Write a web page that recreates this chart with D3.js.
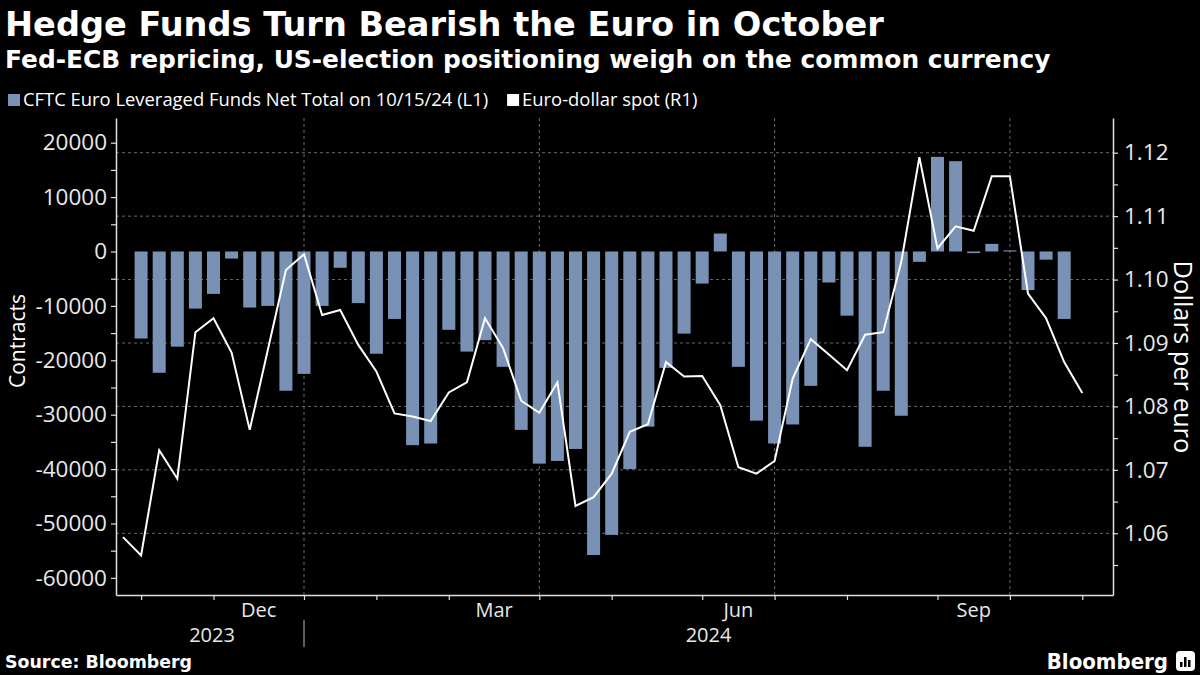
<!DOCTYPE html>
<html><head><meta charset="utf-8">
<script src="https://cdn.jsdelivr.net/npm/d3@7"></script>
<style>html,body{margin:0;padding:0;background:#000;} svg{display:block}</style>
</head><body>
<svg id="chart" width="1200" height="675"></svg>
<script>
// ---------- data ----------
const firstWeek = new Date(2023, 9, 27);   // first weekly point of the spot series
const spotWeeks = 54;                      // weekly points of the spot line
// Euro-dollar spot (R1), weekly
const spotValues = [
  1.0594, 1.0565, 1.0731, 1.0686, 1.0917, 1.0939, 1.0885, 1.0763, 1.0889, 1.1015,
  1.1040, 1.0944, 1.0952, 1.0897, 1.0855, 1.0789, 1.0784, 1.0777, 1.0822, 1.0838,
  1.0939, 1.0892, 1.0809, 1.0790, 1.0838, 1.0643, 1.0657, 1.0694, 1.0760, 1.0772,
  1.0870, 1.0847, 1.0848, 1.0802, 1.0704, 1.0694, 1.0714, 1.0844, 1.0906, 1.0882,
  1.0857, 1.0913, 1.0917, 1.1028, 1.1193, 1.1049, 1.1084, 1.1077, 1.1163, 1.1163,
  1.0978, 1.0939, 1.0870, 1.0821
];
// CFTC Euro Leveraged Funds Net Total (L1), weekly, starting at the 2nd spot week
const cftcValues = [
  -16000, -22300, -17500, -10500, -7800, -1300, -10300, -10000, -25600, -22500,
  -10000, -3000, -9500, -18800, -12400, -35600, -35300, -14400, -18400, -16300,
  -21200, -32800, -39000, -38500, -36300, -55800, -52100, -40000, -32200, -21400,
  -15100, -5900, 3300, -21200, -31100, -35300, -31800, -24700, -5700, -11800,
  -35900, -25600, -30200, -1900, 17400, 16600, -300, 1400, 200, -7100,
  -1500, -12400
];
const leftTickValues = [20000, 10000, 0, -10000, -20000, -30000, -40000, -50000, -60000];
const rightTickValues = [1.06, 1.07, 1.08, 1.09, 1.10, 1.11, 1.12];
const monthLabelNames = ["Dec", "Mar", "Jun", "Sep"];
const yearLabelNames = ["2023", "2024"];
const legendLabels = ["CFTC Euro Leveraged Funds Net Total on 10/15/24 (L1)", "Euro-dollar spot (R1)"];

// ---------- derived ----------
const spotDates = d3.range(spotWeeks).map(i => d3.timeWeek.offset(firstWeek, i));
const spot = spotDates.map((d, i) => ({date: d, value: spotValues[i]}));
const cftc = cftcValues.map((v, i) => ({date: spotDates[i + 1], value: v}));

// ---------- layout ----------
const W = 1200, H = 675;
const plot = {left: 116, right: 1113, top: 118, bottom: 595};
const barColor = "#7a91b6";
const textColor = "#ffffff";
const tickColor = "#e8e8e8";
const axisColor = "#e0e0e0";
const gridColor = "#6a6a6a";
const sansFont = "'Open Sans', 'Noto Sans', sans-serif";
const boldFont = "'DejaVu Sans', sans-serif";

const svg = d3.select("#chart");
svg.append("rect").attr("width", W).attr("height", H).attr("fill", "#000");

const x = d3.scaleTime()
  .domain([d3.timeHour.offset(firstWeek, -65), d3.timeHour.offset(firstWeek, 382 * 24 + 21)])
  .range([plot.left, plot.right]);
const yL = d3.scaleLinear().domain([-63150, 24540]).range([plot.bottom, plot.top]);
const yR = d3.scaleLinear().domain([1.05027, 1.12547]).range([plot.bottom, plot.top]);

// month ticks = first weekly point of each month
const monthStarts = d3.timeMonth.range(new Date(2023, 10, 1), new Date(2024, 10, 2));
const monthTicks = monthStarts.map(m => d3.timeFriday.ceil(m));
const quarterTicks = monthTicks.filter((t, i) => monthStarts[i].getMonth() % 3 === 0);

// ---------- gridlines ----------
const grid = svg.append("g");
grid.selectAll("line.h").data(rightTickValues).join("line")
  .attr("x1", plot.left).attr("x2", plot.right)
  .attr("y1", d => yR(d)).attr("y2", d => yR(d))
  .attr("stroke", gridColor).attr("stroke-width", 1).attr("stroke-dasharray", "3,3");
grid.selectAll("line.v").data(quarterTicks).join("line")
  .attr("x1", d => x(d)).attr("x2", d => x(d))
  .attr("y1", plot.top).attr("y2", plot.bottom)
  .attr("stroke", gridColor).attr("stroke-width", 1).attr("stroke-dasharray", "3,3");

// ---------- bars ----------
const barW = 13;
svg.append("g").selectAll("rect").data(cftc).join("rect")
  .attr("x", d => x(d.date) - barW / 2)
  .attr("width", barW)
  .attr("y", d => yL(Math.max(0, d.value)))
  .attr("height", d => Math.max(1, Math.abs(yL(d.value) - yL(0))))
  .attr("fill", barColor);

// ---------- line ----------
const line = d3.line().x(d => x(d.date)).y(d => yR(d.value));
svg.append("path").datum(spot)
  .attr("d", line).attr("fill", "none")
  .attr("stroke", "#ffffff").attr("stroke-width", 2).attr("stroke-linejoin", "miter");

// ---------- axes ----------
function styleAxis(size) {
  return g => {
    g.select(".domain").attr("stroke", axisColor).attr("stroke-width", 1.5);
    g.selectAll(".tick line").attr("stroke", axisColor).attr("stroke-width", 1.2);
    g.selectAll(".tick text").attr("fill", tickColor).attr("font-family", sansFont).attr("font-size", size);
  };
}
const leftAxis = d3.axisLeft(yL)
  .tickValues(d3.range(-60000, 20001, 5000))
  .tickSize(5).tickSizeOuter(0).tickPadding(4)
  .tickFormat(d => leftTickValues.includes(d) ? String(d) : "");
svg.append("g").attr("transform", `translate(${plot.left},0)`).call(leftAxis).call(styleAxis(22.5));

const rightAxis = d3.axisRight(yR)
  .tickValues(d3.range(0, 14).map(i => +(1.055 + i * 0.005).toFixed(3)))
  .tickSize(5).tickSizeOuter(0).tickPadding(6)
  .tickFormat(d => rightTickValues.some(v => Math.abs(v - d) < 1e-9) ? d3.format(".2f")(d) : "");
svg.append("g").attr("transform", `translate(${plot.right},0)`).call(rightAxis).call(styleAxis(22.5));

const bottomAxis = d3.axisBottom(x).tickValues(monthTicks).tickSize(5).tickSizeOuter(0).tickFormat("");
svg.append("g").attr("transform", `translate(0,${plot.bottom})`).call(bottomAxis).call(styleAxis(20));

// month labels centred in the month interval
const labelMonths = monthStarts.map((m, i) => ({m, i}))
  .filter(o => monthLabelNames.includes(d3.timeFormat("%b")(o.m)));
svg.append("g").selectAll("text").data(labelMonths).join("text")
  .attr("x", o => (x(monthTicks[o.i]) + x(monthTicks[o.i + 1])) / 2)
  .attr("y", 617)
  .attr("text-anchor", "middle").attr("fill", tickColor)
  .attr("font-family", sansFont).attr("font-size", 20)
  .text(o => d3.timeFormat("%b")(o.m));

// year labels and separator
const yearBreak = monthTicks[monthStarts.findIndex(m => m.getFullYear() === 2024)];
const yearSpans = [[x.domain()[0], yearBreak], [yearBreak, x.domain()[1]]];
svg.append("g").selectAll("text").data(yearLabelNames).join("text")
  .attr("x", (d, i) => (x(yearSpans[i][0]) + x(yearSpans[i][1])) / 2 + (i === 0 ? 2 : 0))
  .attr("y", 642)
  .attr("text-anchor", "middle").attr("fill", tickColor)
  .attr("font-family", sansFont).attr("font-size", 20)
  .text(d => d);
svg.append("line")
  .attr("x1", x(yearBreak)).attr("x2", x(yearBreak))
  .attr("y1", 620).attr("y2", 647)
  .attr("stroke", "#bbbbbb").attr("stroke-width", 1);

// axis titles
svg.append("text")
  .attr("transform", `translate(25,341) rotate(-90)`)
  .attr("text-anchor", "middle").attr("fill", textColor)
  .attr("font-family", sansFont).attr("font-size", 21)
  .text("Contracts");
svg.append("text")
  .attr("transform", `translate(1174,357) rotate(90)`)
  .attr("text-anchor", "middle").attr("fill", textColor)
  .attr("font-family", sansFont).attr("font-size", 25.5)
  .text("Dollars per euro");

// ---------- titles ----------
svg.append("text").attr("x", 5).attr("y", 36)
  .attr("fill", textColor).attr("font-family", boldFont).attr("font-weight", "bold")
  .attr("font-size", 33.6).text("Hedge Funds Turn Bearish the Euro in October");
svg.append("text").attr("x", 5).attr("y", 68)
  .attr("fill", textColor).attr("font-family", boldFont).attr("font-weight", "bold")
  .attr("font-size", 24.9).text("Fed-ECB repricing, US-election positioning weigh on the common currency");

// ---------- legend ----------
const legend = svg.append("g");
legend.append("rect").attr("x", 8).attr("y", 94).attr("width", 12).attr("height", 12).attr("fill", barColor);
const l1 = legend.append("text").attr("x", 23).attr("y", 106)
  .attr("fill", textColor).attr("font-family", sansFont).attr("font-size", 18.4)
  .text(legendLabels[0]);
const l2x = 23 + l1.node().getComputedTextLength() + 19;
legend.append("rect").attr("x", l2x).attr("y", 94).attr("width", 12).attr("height", 12).attr("fill", "#ffffff");
legend.append("text").attr("x", l2x + 15).attr("y", 106)
  .attr("fill", textColor).attr("font-family", sansFont).attr("font-size", 18.4)
  .text(legendLabels[1]);

// ---------- footer ----------
svg.append("text").attr("x", 5).attr("y", 668)
  .attr("fill", textColor).attr("font-family", boldFont).attr("font-weight", "bold")
  .attr("font-size", 17.4).text("Source: Bloomberg");
svg.append("text").attr("x", 1168).attr("y", 669).attr("text-anchor", "end")
  .attr("fill", textColor).attr("font-family", "'DejaVu Sans Condensed', 'DejaVu Sans', sans-serif")
  .attr("font-weight", "bold").attr("font-size", 22).text("Bloomberg");
const logo = svg.append("g").attr("transform", "translate(1176,651)");
logo.append("rect").attr("width", 19).attr("height", 20).attr("rx", 4).attr("fill", "#ffffff");
[[4, 11, 5], [8, 6, 10], [12, 9, 7]].forEach(([bx, by, bh]) =>
  logo.append("rect").attr("x", bx).attr("y", by).attr("width", 2.5).attr("height", bh).attr("fill", "#000"));
</script>
</body></html>
